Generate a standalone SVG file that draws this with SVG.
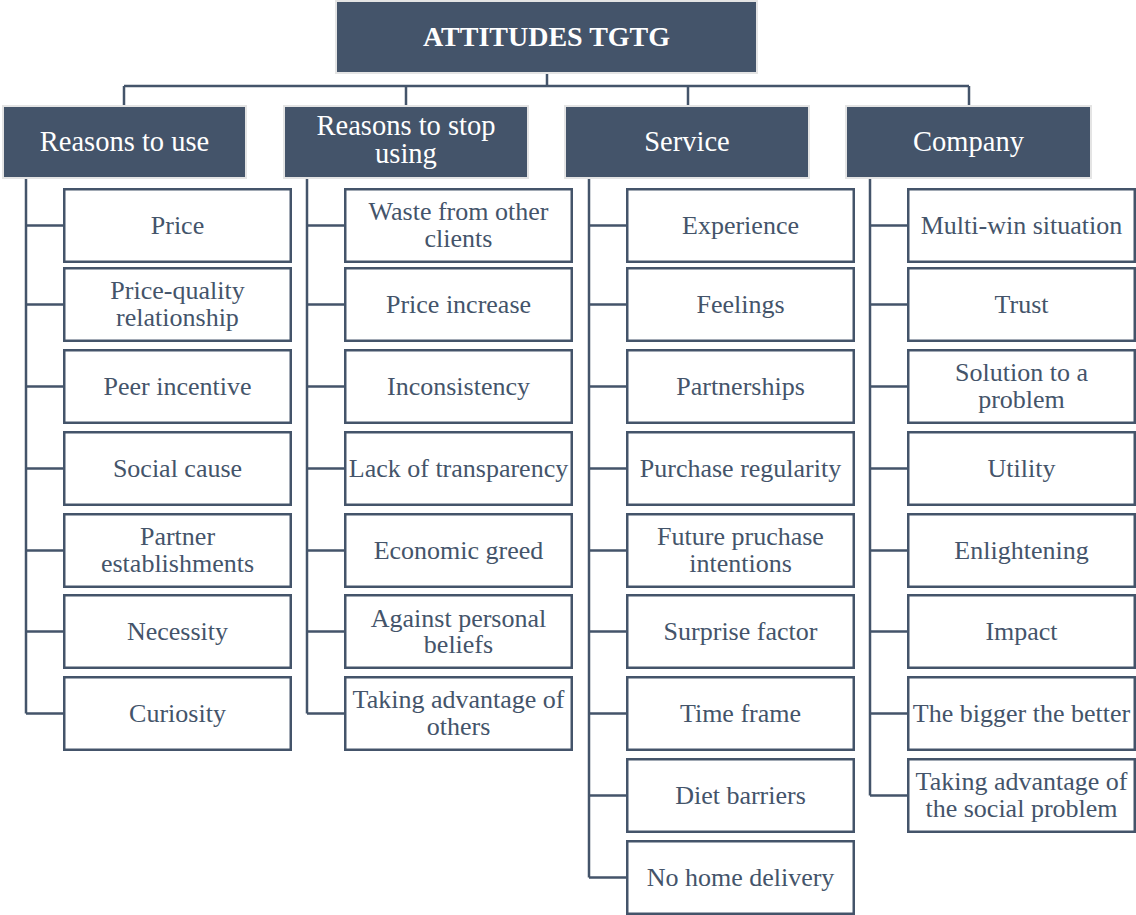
<svg xmlns="http://www.w3.org/2000/svg" width="1136" height="915" viewBox="0 0 1136 915">
<style>
.hd{fill:#44546a;stroke:#e4e4e4;stroke-width:2}
.bx{fill:#ffffff;stroke:#44546a;stroke-width:2.5}
text{font-family:'Liberation Serif',Tinos,'Times New Roman',Times,'DejaVu Serif','Noto Serif',serif;text-anchor:middle}
.ht{font-size:28.5px;fill:#ffffff}
.rt{font-size:28px;font-weight:bold;fill:#ffffff}
.ct{font-size:26px;fill:#44546a}
.cn{fill:none;stroke:#44546a;stroke-width:2.5}
</style>
<rect width="1136" height="915" fill="#ffffff"/>
<g id="connectors" class="cn">
<path d="M547 73V86M124 86H969M124 86V105M406 86V105M688 86V105M969 86V105"/>
<path d="M26 179V713.5M26 225.5H63M26 304.5H63M26 386.5H63M26 468.5H63M26 550.5H63M26 631.5H63M26 713.5H63"/>
<path d="M307 179V713.5M307 225.5H344M307 304.5H344M307 386.5H344M307 468.5H344M307 550.5H344M307 631.5H344M307 713.5H344"/>
<path d="M589 179V877.5M589 225.5H626M589 304.5H626M589 386.5H626M589 468.5H626M589 550.5H626M589 631.5H626M589 713.5H626M589 795.5H626M589 877.5H626"/>
<path d="M870 179V795.5M870 225.5H907M870 304.5H907M870 386.5H907M870 468.5H907M870 550.5H907M870 631.5H907M870 713.5H907M870 795.5H907"/>
</g>
<g id="root"><rect class="hd" x="336" y="1" width="421" height="72"/><text class="rt" x="546.5" y="45.5">ATTITUDES TGTG</text></g>
<g id="h1"><rect class="hd" x="3" y="106" width="243" height="72"/><text class="ht" x="124.5" y="150.7">Reasons to use</text></g>
<g id="h2"><rect class="hd" x="284" y="106" width="244" height="72"/><text class="ht" x="406" y="135">Reasons to stop</text><text class="ht" x="406" y="163.3">using</text></g>
<g id="h3"><rect class="hd" x="565" y="106" width="244" height="72"/><text class="ht" x="687" y="150.7">Service</text></g>
<g id="h4"><rect class="hd" x="846" y="106" width="245" height="72"/><text class="ht" x="968.5" y="150.7">Company</text></g>

<g id="c1-1"><rect class="bx" x="64.25" y="189.25" width="226.5" height="72.5"/><text class="ct" x="177.5" y="233.5">Price</text></g>
<g id="c1-2"><rect class="bx" x="64.25" y="268.25" width="226.5" height="72.5"/><text class="ct" x="177.5" y="299">Price-quality</text><text class="ct" x="177.5" y="325.5">relationship</text></g>
<g id="c1-3"><rect class="bx" x="64.25" y="350.25" width="226.5" height="72.5"/><text class="ct" x="177.5" y="394.5">Peer incentive</text></g>
<g id="c1-4"><rect class="bx" x="64.25" y="432.25" width="226.5" height="72.5"/><text class="ct" x="177.5" y="476.5">Social cause</text></g>
<g id="c1-5"><rect class="bx" x="64.25" y="514.25" width="226.5" height="72.5"/><text class="ct" x="177.5" y="545">Partner</text><text class="ct" x="177.5" y="571.5">establishments</text></g>
<g id="c1-6"><rect class="bx" x="64.25" y="595.25" width="226.5" height="72.5"/><text class="ct" x="177.5" y="639.5">Necessity</text></g>
<g id="c1-7"><rect class="bx" x="64.25" y="677.25" width="226.5" height="72.5"/><text class="ct" x="177.5" y="721.5">Curiosity</text></g>

<g id="c2-1"><rect class="bx" x="345.25" y="189.25" width="226.5" height="72.5"/><text class="ct" x="458.5" y="220">Waste from other</text><text class="ct" x="458.5" y="246.5">clients</text></g>
<g id="c2-2"><rect class="bx" x="345.25" y="268.25" width="226.5" height="72.5"/><text class="ct" x="458.5" y="312.5">Price increase</text></g>
<g id="c2-3"><rect class="bx" x="345.25" y="350.25" width="226.5" height="72.5"/><text class="ct" x="458.5" y="394.5">Inconsistency</text></g>
<g id="c2-4"><rect class="bx" x="345.25" y="432.25" width="226.5" height="72.5"/><text class="ct" x="458.5" y="476.5">Lack of transparency</text></g>
<g id="c2-5"><rect class="bx" x="345.25" y="514.25" width="226.5" height="72.5"/><text class="ct" x="458.5" y="558.5">Economic greed</text></g>
<g id="c2-6"><rect class="bx" x="345.25" y="595.25" width="226.5" height="72.5"/><text class="ct" x="458.5" y="626.5">Against personal</text><text class="ct" x="458.5" y="653">beliefs</text></g>
<g id="c2-7"><rect class="bx" x="345.25" y="677.25" width="226.5" height="72.5"/><text class="ct" x="458.5" y="708">Taking advantage of</text><text class="ct" x="458.5" y="734.5">others</text></g>

<g id="c3-1"><rect class="bx" x="627.25" y="189.25" width="226.5" height="72.5"/><text class="ct" x="740.5" y="233.5">Experience</text></g>
<g id="c3-2"><rect class="bx" x="627.25" y="268.25" width="226.5" height="72.5"/><text class="ct" x="740.5" y="312.5">Feelings</text></g>
<g id="c3-3"><rect class="bx" x="627.25" y="350.25" width="226.5" height="72.5"/><text class="ct" x="740.5" y="394.5">Partnerships</text></g>
<g id="c3-4"><rect class="bx" x="627.25" y="432.25" width="226.5" height="72.5"/><text class="ct" x="740.5" y="476.5">Purchase regularity</text></g>
<g id="c3-5"><rect class="bx" x="627.25" y="514.25" width="226.5" height="72.5"/><text class="ct" x="740.5" y="545">Future pruchase</text><text class="ct" x="740.5" y="571.5">intentions</text></g>
<g id="c3-6"><rect class="bx" x="627.25" y="595.25" width="226.5" height="72.5"/><text class="ct" x="740.5" y="639.5">Surprise factor</text></g>
<g id="c3-7"><rect class="bx" x="627.25" y="677.25" width="226.5" height="72.5"/><text class="ct" x="740.5" y="721.5">Time frame</text></g>
<g id="c3-8"><rect class="bx" x="627.25" y="759.25" width="226.5" height="72.5"/><text class="ct" x="740.5" y="803.5">Diet barriers</text></g>
<g id="c3-9"><rect class="bx" x="627.25" y="841.25" width="226.5" height="72.5"/><text class="ct" x="740.5" y="885.5">No home delivery</text></g>

<g id="c4-1"><rect class="bx" x="908.25" y="189.25" width="226.5" height="72.5"/><text class="ct" x="1021.5" y="233.5">Multi-win situation</text></g>
<g id="c4-2"><rect class="bx" x="908.25" y="268.25" width="226.5" height="72.5"/><text class="ct" x="1021.5" y="312.5">Trust</text></g>
<g id="c4-3"><rect class="bx" x="908.25" y="350.25" width="226.5" height="72.5"/><text class="ct" x="1021.5" y="381">Solution to a</text><text class="ct" x="1021.5" y="407.5">problem</text></g>
<g id="c4-4"><rect class="bx" x="908.25" y="432.25" width="226.5" height="72.5"/><text class="ct" x="1021.5" y="476.5">Utility</text></g>
<g id="c4-5"><rect class="bx" x="908.25" y="514.25" width="226.5" height="72.5"/><text class="ct" x="1021.5" y="558.5">Enlightening</text></g>
<g id="c4-6"><rect class="bx" x="908.25" y="595.25" width="226.5" height="72.5"/><text class="ct" x="1021.5" y="639.5">Impact</text></g>
<g id="c4-7"><rect class="bx" x="908.25" y="677.25" width="226.5" height="72.5"/><text class="ct" x="1021.5" y="721.5">The bigger the better</text></g>
<g id="c4-8"><rect class="bx" x="908.25" y="759.25" width="226.5" height="72.5"/><text class="ct" x="1021.5" y="790">Taking advantage of</text><text class="ct" x="1021.5" y="816.5">the social problem</text></g>
</svg>
